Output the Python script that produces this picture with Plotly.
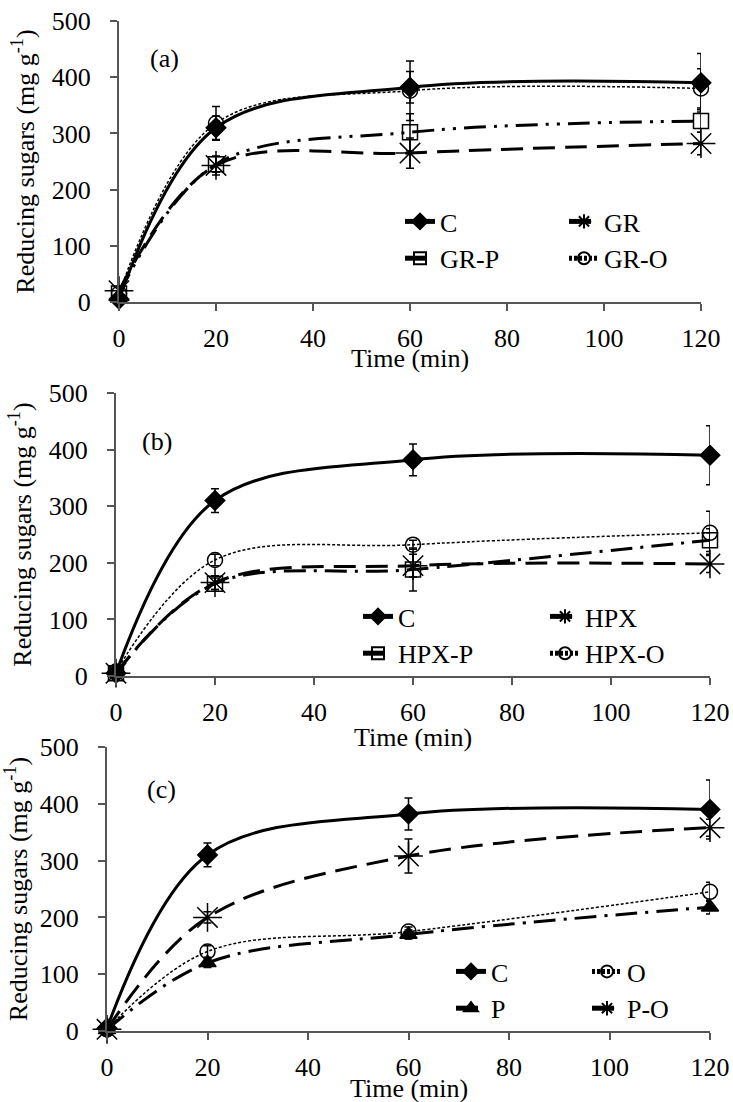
import plotly.graph_objects as go

# ---------------- data ----------------
time_min = [0, 20, 60, 120]

C = [5, 310, 382, 390]
C_err = [0, 21, 28, 52]

# panel (a)
GR = [20, 243, 265, 282]
GR_err = [0, 17, 27, 20]
GR_P = [15, 245, 302, 322]
GR_P_err = [0, 14, 33, 20]
GR_O = [15, 318, 376, 380]
GR_O_err = [0, 30, 53, 35]

# panel (b)
HPX = [5, 165, 195, 198]
HPX_err = [0, 12, 20, 15]
HPX_P = [5, 163, 188, 240]
HPX_P_err = [0, 10, 38, 20]
HPX_O = [8, 205, 232, 253]
HPX_O_err = [0, 10, 8, 38]

# panel (c)
O = [3, 140, 175, 245]
O_err = [0, 10, 8, 17]
P = [2, 120, 170, 218]
P_err = [0, 8, 8, 12]
P_O = [3, 200, 308, 358]
P_O_err = [0, 10, 30, 15]

x_ticks = [0, 20, 40, 60, 80, 100, 120]
y_ticks = [0, 100, 200, 300, 400, 500]
panel_labels = ["(a)", "(b)", "(c)"]

# ---------------- styles ----------------
W, H = 733, 1102
FONT = "Liberation Serif, serif"
FS = 26
AX = "#555555"

STY = {
    "C": dict(dash="solid", width=3, symbol="diamond", size=15),
    "long": dict(dash="22px,10px", width=3, symbol="asterisk-open", size=24),
    "dashdotdot": dict(dash="22px,8px,3px,8px,3px,8px", width=3, symbol="square-open", size=15),
    "dashdot": dict(dash="22px,8px,3px,8px", width=3, symbol="square-open", size=15),
    "dotted": dict(dash="3px,2px", width=1.5, symbol="circle-open", size=15),
    "tri": dict(dash="22px,8px,3px,8px", width=3, symbol="triangle-up", size=15),
}

fig = go.Figure()


def add(name, y, err, sty, row, legend):
    s = STY[sty]
    sfx = "" if row == 1 else str(row)
    fig.add_trace(go.Scatter(
        x=time_min, y=y, name=name, mode="lines+markers",
        line=dict(color="black", width=s["width"], dash=s["dash"], shape="spline", smoothing=1),
        marker=dict(symbol=s["symbol"], size=s["size"], color="black",
                    line=dict(color="black", width=1.5)),
        error_y=dict(type="data", array=err, visible=True, color="black", thickness=1.5, width=4),
        xaxis="x" + sfx, yaxis="y" + sfx, legend=legend, cliponaxis=False,
    ))


# panel a
add("C", C, C_err, "C", 1, "legend")
add("GR-P", GR_P, GR_P_err, "dashdotdot", 1, "legend")
add("GR", GR, GR_err, "long", 1, "legend2")
add("GR-O", GR_O, GR_O_err, "dotted", 1, "legend2")
# panel b
add("C", C, C_err, "C", 2, "legend3")
add("HPX-P", HPX_P, HPX_P_err, "dashdot", 2, "legend3")
add("HPX", HPX, HPX_err, "long", 2, "legend4")
add("HPX-O", HPX_O, HPX_O_err, "dotted", 2, "legend4")
# panel c
add("C", C, C_err, "C", 3, "legend5")
add("P", P, P_err, "tri", 3, "legend5")
add("O", O, O_err, "dotted", 3, "legend6")
add("P-O", P_O, P_O_err, "long", 3, "legend6")

# panel geometry (pixels)
panels = [
    dict(x0=119, x1=701, ytop=21, ybot=302, title_y=358, lab=(9.3, 433),
         leg=[(444, 218), (608, 218)]),
    dict(x0=116, x1=710, ytop=393, ybot=676, title_y=737, lab=(8.2, 415),
         leg=[(402, 613), (589, 613)]),
    dict(x0=107, x1=710, ytop=747, ybot=1031, title_y=1088, lab=(10.9, 425),
         leg=[(495, 968), (631, 968)]),
]

layout = dict(
    width=W, height=H, margin=dict(l=0, r=0, t=0, b=0, pad=0, autoexpand=False),
    paper_bgcolor="white", plot_bgcolor="white",
    font=dict(family=FONT, size=FS, color="black"),
    showlegend=True,
)
annotations = []
li = 1
for i, p in enumerate(panels):
    sfx = "" if i == 0 else str(i + 1)
    layout["xaxis" + sfx] = dict(
        domain=[p["x0"] / W, p["x1"] / W], range=[0, 120], automargin=False,
        tickvals=x_ticks, ticktext=[str(v) for v in x_ticks],
        showgrid=False, zeroline=False, showline=True, linecolor=AX, linewidth=2,
        ticks="outside", ticklen=7, tickwidth=2, tickcolor=AX,
        ticklabelstandoff=5, anchor="y" + sfx,
        tickfont=dict(family=FONT, size=FS, color="black"),
    )
    layout["yaxis" + sfx] = dict(
        domain=[1 - p["ybot"] / H, 1 - p["ytop"] / H], range=[0, 500], automargin=False,
        tickvals=y_ticks, ticktext=[str(v) for v in y_ticks],
        showgrid=False, zeroline=False, showline=True, linecolor=AX, linewidth=2,
        ticks="outside", ticklen=7, tickwidth=2, tickcolor=AX,
        ticklabelstandoff=14, anchor="x" + sfx,
        tickfont=dict(family=FONT, size=FS, color="black"),
        title=dict(text="Reducing sugars (mg g<sup>-1</sup>)", standoff=10,
                   font=dict(family=FONT, size=FS, color="black")),
    )
    annotations.append(dict(
        text="Time (min)", xref=("x" + sfx + " domain"), x=0.5, xanchor="center",
        yref="paper", y=1 - p["title_y"] / H, yanchor="middle", showarrow=False,
        font=dict(family=FONT, size=FS, color="black")))
    annotations.append(dict(
        text=panel_labels[i], xref="x" + sfx, yref="y" + sfx,
        x=p["lab"][0], y=p["lab"][1], showarrow=False,
        font=dict(family=FONT, size=FS, color="black")))
    for (tx, ty) in p["leg"]:
        key = "legend" if li == 1 else "legend" + str(li)
        layout[key] = dict(
            x=(tx - 44) / W, xanchor="left", y=1 - (ty - 20) / H, yanchor="top",
            bgcolor="rgba(0,0,0,0)", borderwidth=0, orientation="v",
            font=dict(family=FONT, size=FS, color="black"),
            itemsizing="constant", tracegroupgap=0,
        )
        li += 1

layout["annotations"] = annotations
fig.update_layout(**layout)
fig.write_html("out.html")
